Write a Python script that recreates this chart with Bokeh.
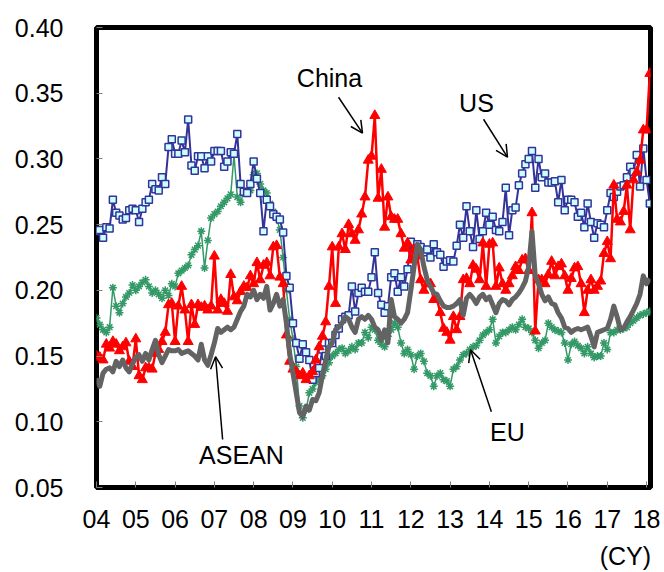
from bokeh.plotting import figure
from bokeh.models import Range1d, FixedTicker, Label, Arrow, OpenHead, NumeralTickFormatter, LinearAxis
from bokeh.embed import file_html
from bokeh.resources import INLINE

# ---------------- data (monthly, Jan 2004 onward) ----------------
year_ticks = [2004, 2005, 2006, 2007, 2008, 2009, 2010, 2011, 2012, 2013, 2014, 2015, 2016, 2017, 2018]
year_labels = ["04", "05", "06", "07", "08", "09", "10", "11", "12", "13", "14", "15", "16", "17", "18"]
y_ticks = [0.05, 0.10, 0.15, 0.20, 0.25, 0.30, 0.35, 0.40]
unit_text = "(CY)"

us = [0.245,0.246,0.240,0.248,0.247,0.269,0.259,0.257,0.254,0.255,
      0.261,0.262,0.261,0.252,0.262,0.267,0.269,0.281,0.277,0.276,
      0.286,0.281,0.309,0.315,0.304,0.304,0.314,0.305,0.330,0.295,
      0.291,0.302,0.302,0.293,0.302,0.298,0.306,0.306,0.306,0.294,
      0.298,0.305,0.304,0.319,0.281,0.275,0.274,0.281,0.298,0.285,
      0.274,0.245,0.269,0.264,0.258,0.256,0.254,0.244,0.211,0.202,
      0.175,0.160,0.148,0.159,0.153,0.147,0.132,0.137,0.141,0.155,
      0.150,0.160,0.160,0.166,0.171,0.178,0.180,0.181,0.203,0.184,
      0.198,0.202,0.199,0.199,0.210,0.229,0.198,0.189,0.183,0.188,
      0.210,0.213,0.199,0.210,0.203,0.216,0.237,0.226,0.235,0.233,
      0.229,0.231,0.225,0.235,0.229,0.227,0.218,0.222,0.223,0.222,
      0.234,0.250,0.240,0.264,0.245,0.233,0.261,0.239,0.245,0.259,
      0.250,0.256,0.246,0.245,0.252,0.278,0.242,0.261,0.263,0.280,
      0.289,0.296,0.300,0.306,0.278,0.300,0.286,0.289,0.282,0.282,
      0.283,0.267,0.284,0.261,0.269,0.269,0.267,0.256,0.259,0.248,
      0.266,0.252,0.240,0.251,0.250,0.248,0.261,0.274,0.271,0.275,
      0.279,0.280,0.286,0.294,0.290,0.303,0.279,0.308,0.284,0.266]

china = [0.150,0.149,0.147,0.159,0.156,0.161,0.159,0.154,0.157,0.160,
         0.146,0.142,0.163,0.135,0.132,0.141,0.141,0.140,0.152,0.155,
         0.161,0.168,0.189,0.190,0.161,0.188,0.203,0.185,0.161,0.189,
         0.174,0.189,0.187,0.188,0.185,0.188,0.226,0.185,0.193,0.190,
         0.184,0.212,0.195,0.192,0.199,0.203,0.202,0.211,0.205,0.221,
         0.208,0.219,0.221,0.211,0.233,0.234,0.210,0.205,0.166,0.146,
         0.140,0.138,0.135,0.137,0.132,0.135,0.138,0.147,0.157,0.165,
         0.176,0.203,0.233,0.190,0.233,0.243,0.231,0.250,0.243,0.238,
         0.246,0.258,0.271,0.299,0.302,0.333,0.270,0.292,0.248,0.271,
         0.256,0.254,0.254,0.243,0.232,0.236,0.223,0.231,0.226,0.208,
         0.200,0.205,0.205,0.193,0.193,0.183,0.171,0.168,0.162,0.180,
         0.170,0.180,0.208,0.209,0.205,0.219,0.216,0.208,0.236,0.203,
         0.235,0.236,0.203,0.217,0.205,0.200,0.205,0.211,0.218,0.215,
         0.223,0.224,0.215,0.259,0.169,0.208,0.208,0.205,0.212,0.222,
         0.211,0.218,0.220,0.211,0.200,0.209,0.217,0.218,0.205,0.183,
         0.200,0.208,0.200,0.203,0.207,0.228,0.237,0.224,0.280,0.254,
         0.252,0.260,0.280,0.246,0.284,0.290,0.299,0.322,0.322,0.365]

eu = [0.179,0.174,0.170,0.168,0.172,0.202,0.188,0.183,0.190,0.195,
      0.198,0.204,0.200,0.203,0.206,0.208,0.203,0.198,0.200,0.197,
      0.194,0.200,0.196,0.205,0.203,0.213,0.215,0.217,0.219,0.227,
      0.231,0.234,0.245,0.217,0.238,0.255,0.258,0.260,0.264,0.267,
      0.270,0.273,0.303,0.271,0.267,0.275,0.274,0.276,0.288,0.289,
      0.281,0.276,0.274,0.266,0.260,0.255,0.246,0.225,0.200,0.178,
      0.163,0.142,0.112,0.103,0.109,0.122,0.125,0.130,0.132,0.135,
      0.140,0.145,0.150,0.152,0.155,0.156,0.152,0.154,0.157,0.155,
      0.160,0.160,0.168,0.164,0.172,0.170,0.162,0.159,0.157,0.165,
      0.170,0.175,0.172,0.160,0.152,0.155,0.151,0.140,0.150,0.152,
      0.146,0.137,0.135,0.127,0.135,0.137,0.132,0.131,0.127,0.140,
      0.142,0.147,0.151,0.152,0.155,0.157,0.158,0.162,0.166,0.168,
      0.170,0.178,0.160,0.165,0.168,0.168,0.170,0.172,0.170,0.174,
      0.178,0.172,0.171,0.168,0.162,0.156,0.160,0.162,0.175,0.172,
      0.170,0.169,0.168,0.160,0.147,0.159,0.161,0.158,0.156,0.152,
      0.157,0.152,0.149,0.150,0.150,0.160,0.155,0.168,0.168,0.170,
      0.170,0.171,0.172,0.175,0.177,0.179,0.181,0.182,0.183,0.184]

asean = [0.133,0.127,0.137,0.140,0.141,0.138,0.146,0.142,0.147,0.141,
         0.138,0.144,0.149,0.151,0.146,0.152,0.147,0.155,0.162,0.151,
         0.145,0.150,0.155,0.154,0.154,0.155,0.152,0.153,0.154,0.152,
         0.150,0.147,0.159,0.147,0.143,0.151,0.160,0.171,0.168,0.170,
         0.172,0.170,0.172,0.178,0.184,0.188,0.197,0.195,0.200,0.193,
         0.197,0.194,0.203,0.185,0.190,0.197,0.188,0.193,0.175,0.152,
         0.137,0.122,0.107,0.104,0.112,0.109,0.117,0.116,0.122,0.135,
         0.147,0.157,0.160,0.170,0.172,0.175,0.180,0.178,0.172,0.168,
         0.178,0.180,0.178,0.181,0.178,0.172,0.170,0.162,0.170,0.160,
         0.193,0.180,0.178,0.175,0.178,0.183,0.200,0.218,0.235,0.231,
         0.218,0.208,0.203,0.198,0.197,0.192,0.188,0.187,0.187,0.188,
         0.190,0.193,0.181,0.194,0.197,0.194,0.190,0.195,0.197,0.193,
         0.195,0.189,0.183,0.190,0.193,0.192,0.189,0.193,0.195,0.198,
         0.202,0.207,0.218,0.245,0.211,0.205,0.197,0.192,0.195,0.190,
         0.189,0.183,0.179,0.172,0.171,0.168,0.170,0.171,0.170,0.171,
         0.172,0.165,0.157,0.168,0.169,0.170,0.171,0.178,0.188,0.180,
         0.170,0.171,0.176,0.180,0.185,0.190,0.197,0.211,0.205,0.209]

months = [2004 + i / 12 for i in range(len(us))]

FONT = "Liberation Sans"
FS = "25px"

p = figure(width=664, height=572,
           x_range=Range1d(2004, 2018.1), y_range=Range1d(0.05, 0.40),
           output_backend="svg", toolbar_location=None,
           min_border_left=96, min_border_right=14,
           min_border_top=27, min_border_bottom=84)
p.background_fill_color = "white"
p.border_fill_color = "white"
p.outline_line_color = "black"
p.outline_line_width = 5
p.grid.visible = False

for ax in (p.xaxis[0], p.yaxis[0]):
    ax.axis_line_color = None
    ax.major_tick_in = 6
    ax.major_tick_out = 0
    ax.major_tick_line_color = "#808080"
    ax.major_tick_line_width = 1
    ax.minor_tick_line_color = None
    ax.major_label_text_font = FONT
    ax.major_label_text_font_size = FS
    ax.major_label_text_color = "black"

p.xaxis.ticker = FixedTicker(ticks=year_ticks)
p.xaxis.major_label_overrides = {t: l for t, l in zip(year_ticks, year_labels)}
p.xaxis.major_label_standoff = 22
p.yaxis.ticker = FixedTicker(ticks=y_ticks)
p.yaxis.formatter = NumeralTickFormatter(format="0.00")
p.yaxis.major_label_standoff = 33

# second (label-only) axis carrying the "(CY)" unit text under the year labels
unit_pos = 2017.46
cy_axis = LinearAxis(ticker=FixedTicker(ticks=[unit_pos]),
                     major_label_overrides={unit_pos: unit_text},
                     axis_line_color=None, major_tick_line_color=None,
                     minor_tick_line_color=None, major_tick_in=0, major_tick_out=0,
                     major_label_standoff=11, major_label_text_line_height=0.8,
                     major_label_text_font=FONT,
                     major_label_text_font_size=FS, major_label_text_color="black")
p.add_layout(cy_axis, "below")

# series
p.line(months, eu, line_color="#339966", line_width=1.5)
p.scatter(months, eu, marker="asterisk", size=8, line_color="#339966", line_width=1.5)

p.line(months, us, line_color="#333399", line_width=2)
p.scatter(months, us, marker="square", size=7, fill_color="#ccffff",
          line_color="#333399", line_width=1.5)

p.line(months, china, line_color="#ff0000", line_width=2.5)
p.scatter(months, china, marker="triangle", size=10, fill_color="#ff0000",
          line_color="#ff0000")

p.line(months, asean, line_color="#636363", line_width=5, line_join="round")

# annotations
def add_label(x, y, text):
    p.add_layout(Label(x=x, y=y, text=text, text_font=FONT, text_font_size=FS,
                       text_align="center", text_baseline="middle", text_color="black"))

def add_arrow(x0, y0, x1, y1):
    p.add_layout(Arrow(x_start=x0, y_start=y0, x_end=x1, y_end=y1,
                       line_color="black", line_width=1.5,
                       end=OpenHead(size=12, line_color="black", line_width=1.5)))

add_label(2009.93, 0.3613, "China")
add_arrow(2010.16, 0.3469, 2010.77, 0.3196)

add_label(2013.67, 0.3423, "US")
add_arrow(2013.85, 0.3302, 2014.46, 0.3013)

add_label(2007.69, 0.0751, "ASEAN")
add_arrow(2007.21, 0.0865, 2007.03, 0.1495)

add_label(2014.46, 0.0926, "EU")
add_arrow(2014.05, 0.1077, 2013.52, 0.1548)

open("out.html", "w").write(file_html(p, INLINE))
